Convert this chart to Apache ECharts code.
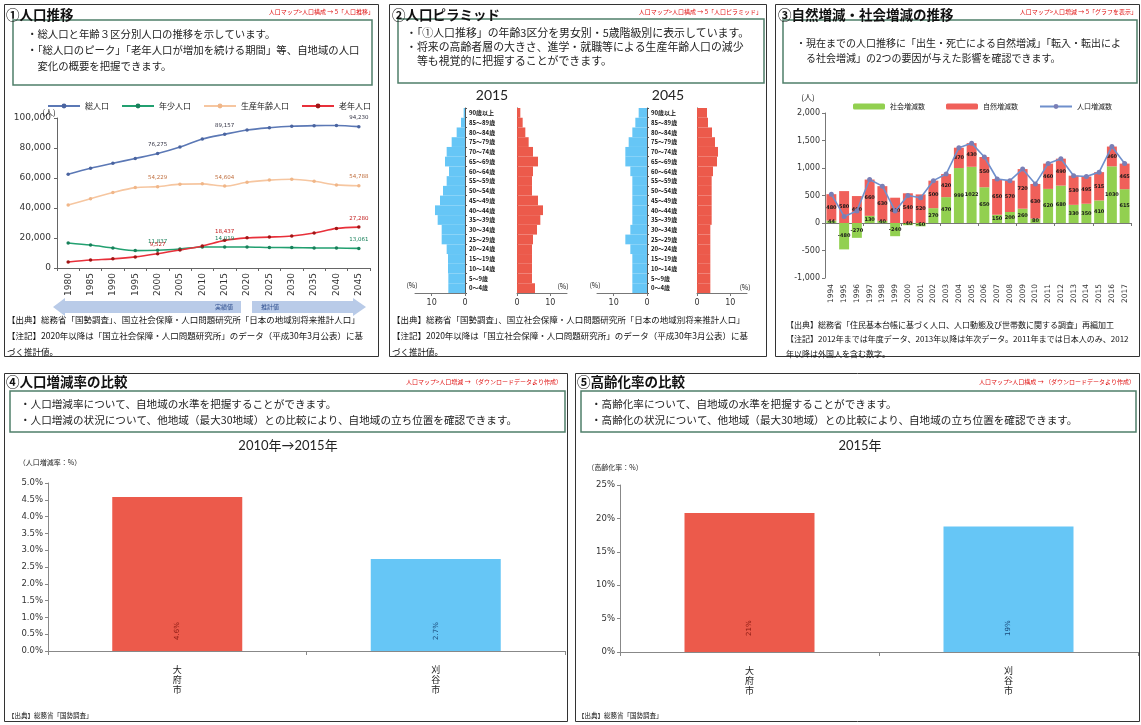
<!DOCTYPE html>
<html><head><meta charset="utf-8">
<script src="https://cdn.jsdelivr.net/npm/echarts@6/dist/echarts.min.js"></script>
<style>html,body{margin:0;padding:0;background:#fff}#c{width:1141px;height:725px}</style>
</head><body><div id="c"></div>
<script>
// ---------- DATA ----------
const years = ['1980','1985','1990','1995','2000','2005','2010','2015','2020','2025','2030','2035','2040','2045'];
const totalPop = [62500,66500,69800,73000,76275,80600,86000,89157,92000,93500,94500,94900,95000,94230];
const youngPop = [16700,15300,13300,11600,11837,12700,14000,14019,14000,13700,13600,13400,13300,13061];
const workingPop = [42000,46200,50300,53600,54229,55900,56100,54604,57200,58600,59200,57800,55400,54788];
const elderlyPop = [4000,5300,6100,7400,9527,12000,14700,18437,20100,20600,21300,23300,26400,27280];
const labeledYears = ['2000','2015','2045'];

const ageGroups = ['0～4歳','5～9歳','10～14歳','15～19歳','20～24歳','25～29歳','30～34歳','35～39歳','40～44歳','45～49歳','50～54歳','55～59歳','60～64歳','65～69歳','70～74歳','75～79歳','80～84歳','85～89歳','90歳以上'];
const male2015   = [5.0,5.0,5.1,5.1,5.5,7.0,7.0,8.2,9.0,7.5,6.6,5.5,4.8,6.0,5.5,4.0,2.5,1.2,0.4];
const female2015 = [5.4,4.5,4.5,4.5,4.5,4.8,6.0,7.0,7.8,6.3,4.5,4.5,4.8,6.3,4.8,3.5,2.5,1.7,1.0];
const male2045   = [4.4,4.4,4.4,4.4,5.0,6.5,5.0,4.4,4.4,4.4,4.4,4.4,5.0,6.5,6.5,5.5,4.4,3.5,2.5];
const female2045 = [4.0,4.0,4.0,4.0,4.0,4.0,4.0,4.4,4.4,4.4,4.4,4.4,4.8,6.0,6.3,5.4,4.5,3.3,3.0];

const changeYears = ['1994','1995','1996','1997','1998','1999','2000','2001','2002','2003','2004','2005','2006','2007','2008','2009','2010','2011','2012','2013','2014','2015','2016','2017'];
const socialChange  = [44,-480,-270,130,40,-240,-40,-60,270,470,999,1022,650,150,200,260,80,620,680,330,350,410,1030,615];
const naturalChange = [480,580,490,660,630,460,540,520,500,420,370,430,550,650,570,720,630,460,490,530,495,515,360,465];
const popChange     = [524,120,220,790,670,220,500,460,770,890,1369,1452,1200,800,770,980,710,1080,1170,860,845,925,1390,1080];

const cities = ['大府市','刈谷市'];
const growthRate = [4.58, 2.74];
const agingRate = [20.8, 18.8];

// ---------- STYLE ----------
const JP = "'Noto Sans CJK JP','Noto Sans',sans-serif";
const NUM = "'DejaVu Sans',sans-serif";
const RED = '#ec5a4b', BLUE = '#66c6f6';

const G = [];
function box(x,y,w,h,stroke,lw){G.push({type:'rect',shape:{x:x,y:y,width:w,height:h},style:{fill:'none',stroke:stroke,lineWidth:lw},z:1});}
function txt(x,y,t,o){G.push({type:'text',x:x,y:y,z:5,style:Object.assign({text:t,fill:'#222',fontSize:10,fontFamily:JP,align:'left',verticalAlign:'middle'},o||{})});}

// panel borders
box(4.5,4.5,374,352,'#333',1);
box(389.5,4.5,377,352,'#333',1);
box(775.5,4.5,364,352,'#333',1);
box(4.5,373.5,563,348,'#333',1);
box(575.5,373.5,564,348,'#333',1);
// description boxes
const BX = '#4f7f6a';
box(13,20,359,65,BX,1.5);
box(398,19,366,64,BX,1.5);
box(783,20,354,63,BX,1.5);
box(10,391,555,41,BX,1.5);
box(581,391,555,41,BX,1.5);

// titles
const TT = {fontSize:13.5,fontWeight:'bold',fill:'#111'};
txt(6,15,'①人口推移',TT);
txt(392,15,'②人口ピラミッド',TT);
txt(778,15,'③自然増減・社会増減の推移',TT);
txt(6,382,'④人口増減率の比較',TT);
txt(577,382,'⑤高齢化率の比較',TT);
const LK = {fontSize:6,fill:'#e01010',align:'right'};
txt(374,12,'人口マップ>人口構成 → 5「人口推移」',LK);
txt(762,12,'人口マップ>人口構成 → 5「人口ピラミッド」',LK);
txt(1137,12,'人口マップ>人口増減 → 5「グラフを表示」',LK);
txt(562,382,'人口マップ>人口増減 → （ダウンロードデータより作成）',LK);
txt(1135,382,'人口マップ>人口構成 → （ダウンロードデータより作成）',LK);

// descriptions
txt(27,50,'・総人口と年齢３区分別人口の推移を示しています。\n・「総人口のピーク」「老年人口が増加を続ける期間」等、自地域の人口\n　変化の概要を把握できます。',{fontSize:10.4,lineHeight:16});
txt(406,47,'・「①人口推移」の年齢3区分を男女別・5歳階級別に表示しています。\n・将来の高齢者層の大きさ、進学・就職等による生産年齢人口の減少\n　等も視覚的に把握することができます。',{fontSize:10.9,lineHeight:14});
txt(796,51,'・現在までの人口推移に「出生・死亡による自然増減」「転入・転出によ\n　る社会増減」の2つの要因が与えた影響を確認できます。',{fontSize:10,lineHeight:15});
txt(20,412,'・人口増減率について、自地域の水準を把握することができます。\n・人口増減の状況について、他地域（最大30地域）との比較により、自地域の立ち位置を確認できます。',{fontSize:10.6,lineHeight:16});
txt(591,412,'・高齢化率について、自地域の水準を把握することができます。\n・高齢化の状況について、他地域（最大30地域）との比較により、自地域の立ち位置を確認できます。',{fontSize:10.6,lineHeight:16});

// footnotes
const FN = {fontSize:8.5,lineHeight:16,fill:'#111'};
txt(7,336,'【出典】総務省「国勢調査」、国立社会保障・人口問題研究所「日本の地域別将来推計人口」\n【注記】2020年以降は「国立社会保障・人口問題研究所」のデータ（平成30年3月公表）に基\nづく推計値。',FN);
txt(392,336,'【出典】総務省「国勢調査」、国立社会保障・人口問題研究所「日本の地域別将来推計人口」\n【注記】2020年以降は「国立社会保障・人口問題研究所」のデータ（平成30年3月公表）に基\nづく推計値。',FN);
txt(786,339,'【出典】総務省「住民基本台帳に基づく人口、人口動態及び世帯数に関する調査」再編加工\n【注記】2012年までは年度データ、2013年以降は年次データ。2011年までは日本人のみ、2012\n年以降は外国人を含む数字。',{fontSize:8,lineHeight:14.5,fill:'#111'});
txt(8,716,'【出典】総務省「国勢調査」',{fontSize:6.5,fill:'#111'});
txt(578,716,'【出典】総務省「国勢調査」',{fontSize:6.5,fill:'#111'});

// chart titles & units
txt(492,95,'2015',{fontSize:14,fontFamily:"Lato,"+JP,align:'center'});
txt(668,95,'2045',{fontSize:14,fontFamily:"Lato,"+JP,align:'center'});
txt(288,446,'2010年→2015年',{fontSize:13,fontFamily:"Lato,"+JP,align:'center'});
txt(860,446,'2015年',{fontSize:13,fontFamily:"Lato,"+JP,align:'center'});
txt(50,462,'（人口増減率：%）',{fontSize:7,align:'center'});
txt(615,467,'（高齢化率：%）',{fontSize:7,align:'center'});
txt(49,112,'(人)',{fontSize:8,align:'center'});
txt(808,97,'(人)',{fontSize:8,align:'center'});
txt(412,285,'(%)',{fontSize:7,align:'center'});
txt(563,286,'(%)',{fontSize:7,align:'center'});
txt(595,285,'(%)',{fontSize:7,align:'center'});
txt(745,287,'(%)',{fontSize:7,align:'center'});

// period arrows (実績値 / 推計値)
G.push({type:'polygon',z:1,shape:{points:[[53,307],[65,298],[65,301],[241,301],[241,313],[65,313],[65,316]]},style:{fill:'#b9cbe8'}});
G.push({type:'polygon',z:1,shape:{points:[[252,301],[353,301],[353,298],[366,307],[353,316],[353,313],[252,313]]},style:{fill:'#b9cbe8'}});
txt(224,307,'実績値',{fontSize:6,fill:'#2f4f8f',align:'center'});
txt(270,307,'推計値',{fontSize:6,fill:'#2f4f8f',align:'center'});

// ---------- helpers ----------
const comma = v => Number(v).toLocaleString('en-US');
function withLabels(arr){return arr.map((v,i)=> labeledYears.indexOf(years[i])>=0 ? {value:v,label:{show:true}} : v);}
function lineSeries(name,data,lineColor,markColor,labelColor){
  return {name:name,type:'line',xAxisIndex:0,yAxisIndex:0,data:withLabels(data),smooth:0.3,symbol:'circle',symbolSize:3.5,
    lineStyle:{color:lineColor,width:1.6},itemStyle:{color:markColor},
    label:{show:false,position:'top',distance:4,fontSize:5.5,fontFamily:NUM,color:labelColor,formatter:p=>comma(p.value)}};
}
const axisLineGray = {show:true,lineStyle:{color:'#777',width:1}};
function pyrX(grid,inverse){
  return {gridIndex:grid,type:'value',min:0,max:15,interval:10,inverse:inverse,
    axisLine:axisLineGray,axisTick:{show:true,length:3,lineStyle:{color:'#777'}},splitLine:{show:false},
    axisLabel:{fontSize:8,fontFamily:NUM,color:'#333',showMaxLabel:false,margin:6}};
}
function pyrY(grid,showLab){
  return {gridIndex:grid,type:'category',data:ageGroups,position:showLab?'right':'left',
    axisLine:{show:true,lineStyle:{color:'#555',width:1}},axisTick:{show:showLab,length:2,lineStyle:{color:'#555'}},
    axisLabel:{show:showLab,fontSize:6,fontWeight:'bold',color:'#111',margin:4,align:'left'},splitLine:{show:false}};
}
function pyrBar(name,data,grid,color){
  return {name:name,type:'bar',xAxisIndex:grid,yAxisIndex:grid,data:data,barCategoryGap:'0%',itemStyle:{color:color}};
}
const g = (l,t,w,h)=>({left:l,top:t,width:w,height:h,containLabel:false,outerBoundsMode:'none'});

const option = {
  animation:false,
  backgroundColor:'#fff',
  textStyle:{fontFamily:JP},
  graphic:G,
  grid:[g(57,118,313,150), g(415,108,50,185), g(517,108,50,185), g(597,108,50,185), g(697,108,50,185),
        g(825,113,306,165), g(48,483,517,168), g(620,485,518,167)],
  legend:[
    {left:42,top:97,itemWidth:32,itemHeight:6,itemGap:12,textStyle:{fontSize:8,color:'#222'},
     data:['総人口','年少人口','生産年齢人口','老年人口']},
    {left:848,top:98,itemWidth:32,itemHeight:6,itemGap:21,textStyle:{fontSize:7,color:'#222'},
     data:['社会増減数','自然増減数','人口増減数']}
  ],
  xAxis:[
    {gridIndex:0,type:'category',data:years,boundaryGap:true,axisLine:{show:true,lineStyle:{color:'#666'}},
     axisTick:{show:true,length:3},axisLabel:{rotate:90,fontSize:9,fontFamily:NUM,color:'#333',margin:5},splitLine:{show:false}},
    pyrX(1,true), pyrX(2,false), pyrX(3,true), pyrX(4,false),
    {gridIndex:5,type:'category',data:changeYears,axisLine:{show:true,onZero:true,lineStyle:{color:'#777'}},
     axisTick:{show:true,length:3},axisLabel:{show:false},splitLine:{show:false}},
    {gridIndex:5,type:'category',data:changeYears,position:'bottom',axisLine:{show:false,onZero:false},
     axisTick:{show:false},axisLabel:{rotate:90,fontSize:7.5,fontFamily:NUM,color:'#333',margin:6},splitLine:{show:false}},
    {gridIndex:6,type:'category',data:cities,axisLine:{show:true,lineStyle:{color:'#888'}},axisTick:{show:true,length:4},
     axisLabel:{fontSize:9,color:'#222',margin:14,lineHeight:10,formatter:v=>v.split('').join('\n')},splitLine:{show:false}},
    {gridIndex:7,type:'category',data:cities,axisLine:{show:true,lineStyle:{color:'#888'}},axisTick:{show:true,length:4},
     axisLabel:{fontSize:9,color:'#222',margin:14,lineHeight:10,formatter:v=>v.split('').join('\n')},splitLine:{show:false}}
  ],
  yAxis:[
    {gridIndex:0,type:'value',min:0,max:100000,interval:20000,axisLine:{show:true,lineStyle:{color:'#666'}},
     axisTick:{show:true,length:3},splitLine:{show:false},axisLabel:{fontSize:9,fontFamily:NUM,color:'#333',margin:6,formatter:comma}},
    pyrY(1,true), pyrY(2,false), pyrY(3,true), pyrY(4,false),
    {gridIndex:5,type:'value',min:-1000,max:2000,interval:500,axisLine:{show:true,lineStyle:{color:'#777'}},
     axisTick:{show:true,length:3},splitLine:{show:false},axisLabel:{fontSize:8,fontFamily:NUM,color:'#333',margin:5,formatter:comma}},
    {gridIndex:6,type:'value',min:0,max:5,interval:0.5,axisLine:{show:true,lineStyle:{color:'#888'}},
     axisTick:{show:true,length:3},splitLine:{show:false},axisLabel:{fontSize:8.5,fontFamily:NUM,color:'#333',margin:5,formatter:v=>v.toFixed(1)+'%'}},
    {gridIndex:7,type:'value',min:0,max:25,interval:5,axisLine:{show:true,lineStyle:{color:'#888'}},
     axisTick:{show:true,length:3},splitLine:{show:false},axisLabel:{fontSize:8.5,fontFamily:NUM,color:'#333',margin:5,formatter:v=>v+'%'}}
  ],
  series:[
    lineSeries('総人口',totalPop,'#5b78b5','#4a64a0','#334'),
    lineSeries('年少人口',youngPop,'#22a070','#18805a','#18805a'),
    lineSeries('生産年齢人口',workingPop,'#f6c6a0','#f0b688','#c07040'),
    lineSeries('老年人口',elderlyPop,'#e8303a','#a01515','#c01818'),
    pyrBar('男性2015',male2015,1,BLUE),
    pyrBar('女性2015',female2015,2,RED),
    pyrBar('男性2045',male2045,3,BLUE),
    pyrBar('女性2045',female2045,4,RED),
    {name:'社会増減数',type:'bar',xAxisIndex:5,yAxisIndex:5,stack:'chg',data:socialChange,barCategoryGap:'22%',
     itemStyle:{color:'#92d050'},label:{show:true,position:'inside',fontSize:5,fontWeight:'bold',fontFamily:NUM,color:'#1a1a1a'}},
    {name:'自然増減数',type:'bar',xAxisIndex:5,yAxisIndex:5,stack:'chg',data:naturalChange,barCategoryGap:'22%',
     itemStyle:{color:'#f0605a'},label:{show:true,position:'inside',fontSize:5,fontWeight:'bold',fontFamily:NUM,color:'#1a1a1a'}},
    {name:'人口増減数',type:'line',xAxisIndex:5,yAxisIndex:5,data:popChange,symbol:'circle',symbolSize:5,
     lineStyle:{color:'#6f8fcc',width:1.6},itemStyle:{color:'#7a7fb6'},z:5},
    {name:'人口増減率',type:'bar',xAxisIndex:7,yAxisIndex:6,barWidth:130,
     data:growthRate.map((v,i)=>({value:v,itemStyle:{color:i===0?RED:BLUE},label:{color:i===0?'#8a1a12':'#1a4a7a'}})),
     label:{show:true,position:'insideBottom',rotate:90,align:'left',verticalAlign:'middle',distance:11,fontSize:7,fontFamily:NUM,formatter:p=>p.value.toFixed(1)+'%'}},
    {name:'高齢化率',type:'bar',xAxisIndex:8,yAxisIndex:7,barWidth:130,
     data:agingRate.map((v,i)=>({value:v,itemStyle:{color:i===0?RED:BLUE},label:{color:i===0?'#8a1a12':'#1a4a7a'}})),
     label:{show:true,position:'insideBottom',rotate:90,align:'left',verticalAlign:'middle',distance:16,fontSize:7,fontFamily:NUM,formatter:p=>Math.round(p.value)+'%'}}
  ]
};
const chart = echarts.init(document.getElementById('c'));
chart.setOption(option);
</script>
</body></html>
